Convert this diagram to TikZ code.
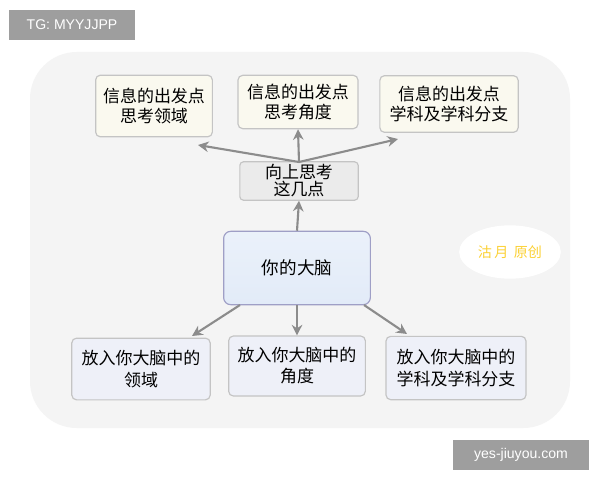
\documentclass[tikz,border=0pt]{standalone}
\usepackage{fontspec}
\setmainfont{Liberation Sans}
\newfontfamily\cjk{Noto Sans CJK SC}
\usetikzlibrary{shapes.geometric, arrows, positioning, shapes}
\definecolor{panel}{HTML}{F4F4F4}
\definecolor{cream}{HTML}{FAF9EF}
\definecolor{lblue}{HTML}{E2EBF8}
\definecolor{pblue}{HTML}{EEF0F8}
\definecolor{edge}{HTML}{C4C4C4}
\tikzstyle{topbox} = [rectangle, rounded corners=4pt, draw=edge, line width=1pt, fill=cream, align=center, font=\cjk\fontsize{14.5}{17}\selectfont, inner sep=1pt]
\tikzstyle{midbox} = [rectangle, rounded corners=3pt, draw=edge, line width=1pt, fill=black!8, align=center, font=\cjk\fontsize{14.5}{14.5}\selectfont, inner sep=0pt]
\tikzstyle{brain} = [rectangle, rounded corners=6pt, draw=blue!25!gray!60, line width=1pt, top color=lblue!70, bottom color=lblue, align=center, font=\cjk\fontsize{15}{17}\selectfont]
\tikzstyle{lowbox} = [rectangle, rounded corners=4pt, draw=edge, line width=1pt, fill=pblue, align=center, font=\cjk\fontsize{14.5}{18}\selectfont, inner sep=1pt]
\tikzstyle{tag} = [rectangle, fill=black!38, text=white, font=\fontsize{12}{14}\selectfont]
\tikzstyle{arrow} = [line width=1.8pt, draw=black!45, ->, >={Stealth[length=9pt,width=9pt]}]
\usetikzlibrary{arrows.meta}
\begin{document}
\begin{tikzpicture}[x=0.03cm, y=-0.03cm]
\useasboundingbox (0,0) rectangle (600,480);
\fill[white] (0,0) rectangle (600,480);
% panel behind the diagram
\fill[panel, rounded corners=40] (30,52) rectangle (570,428);
% watermark tags
\node (tg) [tag, minimum width=3.75cm, minimum height=0.9cm] at (72,25) {TG: MYYJJPP};
\node (site) [tag, minimum width=4.1cm, minimum height=0.9cm] at (521,455) {yes-jiuyou.com};
% top row
\node (field) [topbox, minimum width=3.5cm, minimum height=1.85cm] at (154,106) {信息的出发点\\思考领域};
\node (angle) [topbox, minimum width=3.6cm, minimum height=1.6cm] at (298,102) {信息的出发点\\思考角度};
\node (subject) [topbox, minimum width=4.15cm, minimum height=1.7cm] at (449,104) {信息的出发点\\学科及学科分支};
% middle
\node (up) [midbox, minimum width=3.55cm, minimum height=1.15cm] at (299,181) {向上思考\\这几点};
\node (mind) [brain, minimum width=4.4cm, minimum height=2.2cm] at (297,268) {你的大脑};
\node (sign) [ellipse, fill=white, minimum width=2.7cm, minimum height=1.6cm, text=yellow!60!orange!80, font=\cjk\fontsize{12}{14}\selectfont] at (510,252) {沽\,月\, 原创};
% bottom row
\node (pfield) [lowbox, minimum width=4.15cm, minimum height=1.85cm] at (141,369) {放入你大脑中的\\领域};
\node (pangle) [lowbox, minimum width=4.1cm, minimum height=1.8cm] at (297,366) {放入你大脑中的\\角度};
\node (psubject) [lowbox, minimum width=4.2cm, minimum height=1.9cm] at (456,368) {放入你大脑中的\\学科及学科分支};
% arrow ends
\coordinate (hub) at (299,162);
\coordinate (tfield) at (198,145);
\coordinate (tsubject) at (398,139);
\coordinate (bleft) at (240,305);
\coordinate (bright) at (364,305);
\coordinate (pl) at (192,336);
\coordinate (pr) at (407,334);
% arrows
\draw [arrow] (hub) -- (tfield);
\draw [arrow] (hub) -- (angle.south);
\draw [arrow] (hub) -- (tsubject);
\draw [arrow] (mind.north) -- (up.south);
\draw [arrow] (bleft) -- (pl);
\draw [arrow] (mind.south) -- (pangle.north);
\draw [arrow] (bright) -- (pr);
\end{tikzpicture}
\end{document}
